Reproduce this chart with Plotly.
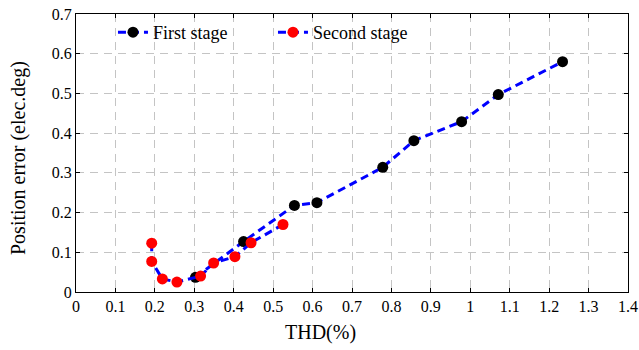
import plotly.graph_objects as go

first_x = [0.303, 0.425, 0.554, 0.611, 0.778, 0.857, 0.978, 1.071, 1.234]
first_y = [0.037, 0.127, 0.218, 0.225, 0.314, 0.381, 0.429, 0.497, 0.580]

second_x = [0.192, 0.192, 0.219, 0.256, 0.316, 0.349, 0.403, 0.444, 0.525]
second_y = [0.123, 0.077, 0.033, 0.025, 0.040, 0.073, 0.089, 0.124, 0.170]

x_ticks = [0, 0.1, 0.2, 0.3, 0.4, 0.5, 0.6, 0.7, 0.8, 0.9, 1, 1.1, 1.2, 1.3, 1.4]
x_labels = ["0", "0.1", "0.2", "0.3", "0.4", "0.5", "0.6", "0.7", "0.8", "0.9", "1", "1.1", "1.2", "1.3", "1.4"]
y_ticks = [0, 0.1, 0.2, 0.3, 0.4, 0.5, 0.6, 0.7]
y_labels = ["0", "0.1", "0.2", "0.3", "0.4", "0.5", "0.6", "0.7"]

font = "Times New Roman"

fig = go.Figure()
fig.add_trace(go.Scatter(
    x=first_x, y=first_y, mode="lines+markers", name="First stage",
    line=dict(color="#0000ff", width=3, dash="8px,5px"),
    marker=dict(color="black", size=11),
))
fig.add_trace(go.Scatter(
    x=second_x, y=second_y, mode="lines+markers", name="Second stage",
    line=dict(color="#0000ff", width=3, dash="8px,5px"),
    marker=dict(color="#ff0000", size=11),
))

axis_common = dict(
    showline=True, linecolor="black", linewidth=1, mirror="ticks",
    ticks="inside", ticklen=4, tickcolor="black",
    showgrid=True, gridcolor="#c4c4c4", griddash="8px,6px", gridwidth=1,
    zeroline=False, automargin=False,
    tickfont=dict(family=font, size=16, color="black"),
)

fig.update_layout(
    width=639, height=350,
    margin=dict(l=76, r=11, t=14, b=58),
    plot_bgcolor="white", paper_bgcolor="white",
    font=dict(family=font, color="black"),
    legend=dict(
        orientation="h", x=0.067, y=1.0, xanchor="left", yanchor="top",
        font=dict(family=font, size=18, color="black"),
        bgcolor="rgba(255,255,255,0)",
        entrywidth=115, entrywidthmode="pixels",
    ),
    xaxis=dict(range=[0, 1.4], tickvals=x_ticks, ticktext=x_labels, **axis_common),
    yaxis=dict(range=[0, 0.7], tickvals=y_ticks, ticktext=y_labels, **axis_common),
    annotations=[
        dict(text="THD(%)", xref="paper", yref="paper", showarrow=False,
             x=(320 - 76) / 552, y=-(332 - 292) / 278, xanchor="center", yanchor="middle",
             font=dict(family=font, size=20, color="black")),
        dict(text="Position error (elec.deg)", xref="paper", yref="paper", showarrow=False,
             x=-(76 - 18) / 552, y=(292 - 158) / 278, xanchor="center", yanchor="middle",
             textangle=-90, font=dict(family=font, size=20, color="black")),
    ],
)

fig.write_html("out.html")
